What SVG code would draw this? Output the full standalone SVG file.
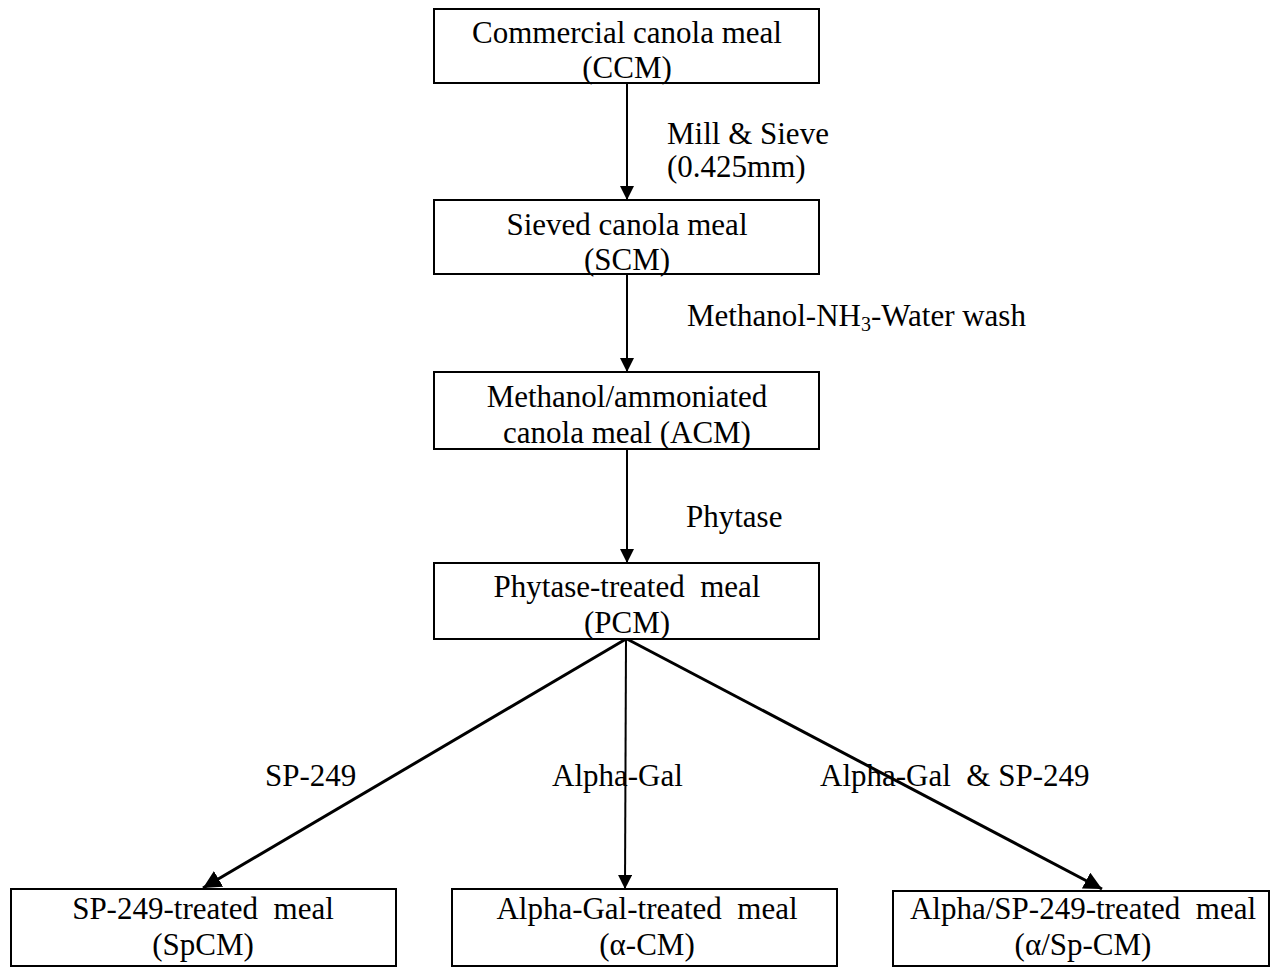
<svg xmlns="http://www.w3.org/2000/svg" width="1281" height="967" viewBox="0 0 1281 967">
<style>
.box{fill:#fff;stroke:#000;stroke-width:2}
text{font-family:"Liberation Serif","Times New Roman",serif;font-size:31px;fill:#000}
.c{text-anchor:middle}
.ln{stroke:#000;stroke-width:2;fill:none}
.dg{stroke:#000;stroke-width:3;fill:none}
</style>
<defs>
<marker id="ah" viewBox="0 0 10 10" refX="10" refY="5" markerWidth="14" markerHeight="14" markerUnits="userSpaceOnUse" orient="auto">
<path d="M0,0 L10,5 L0,10 z" fill="#000"/>
</marker>
<marker id="ah2" viewBox="0 0 10 10" refX="10" refY="5" markerWidth="6" markerHeight="6" orient="auto">
<path d="M0,0 L10,5 L0,10 z" fill="#000"/>
</marker>
</defs>
<rect width="1281" height="967" fill="#fff"/>
<g id="connectors">
<line class="ln" x1="627" y1="83" x2="627" y2="200" marker-end="url(#ah)"/>
<line class="ln" x1="627" y1="274" x2="627" y2="372" marker-end="url(#ah)"/>
<line class="ln" x1="627" y1="449" x2="627" y2="563" marker-end="url(#ah)"/>
<line class="ln" x1="626" y1="639" x2="625" y2="889" marker-end="url(#ah)"/>
<line class="dg" x1="626" y1="639" x2="203" y2="888" marker-end="url(#ah2)"/>
<line class="dg" x1="627" y1="639" x2="1102" y2="889" marker-end="url(#ah2)"/>
<text x="667" y="144">Mill &amp; Sieve</text>
<text x="667" y="177">(0.425mm)</text>
<text x="687" y="326">Methanol-NH<tspan font-size="20" dy="5">3</tspan><tspan dy="-5">-Water wash</tspan></text>
<text x="686" y="527">Phytase</text>
<text x="265" y="786">SP-249</text>
<text x="552" y="786">Alpha-Gal</text>
<text x="820" y="786" xml:space="preserve">Alpha-Gal  &amp; SP-249</text>
</g>
<g id="ccm">
<rect class="box" x="434" y="9" width="385" height="74"/>
<text class="c" x="627" y="43">Commercial canola meal</text>
<text class="c" x="627" y="78">(CCM)</text>
</g>
<g id="scm">
<rect class="box" x="434" y="200" width="385" height="74"/>
<text class="c" x="627" y="235">Sieved canola meal</text>
<text class="c" x="627" y="270">(SCM)</text>
</g>
<g id="acm">
<rect class="box" x="434" y="372" width="385" height="77"/>
<text class="c" x="627" y="407">Methanol/ammoniated</text>
<text class="c" x="627" y="443">canola meal (ACM)</text>
</g>
<g id="pcm">
<rect class="box" x="434" y="563" width="385" height="76"/>
<text class="c" x="627" y="597" xml:space="preserve">Phytase-treated  meal</text>
<text class="c" x="627" y="633">(PCM)</text>
</g>
<g id="spcm">
<rect class="box" x="11" y="889" width="385" height="77"/>
<text class="c" x="203" y="919" xml:space="preserve">SP-249-treated  meal</text>
<text class="c" x="203" y="955">(SpCM)</text>
</g>
<g id="acm2">
<rect class="box" x="452" y="889" width="385" height="77"/>
<text class="c" x="647" y="919" xml:space="preserve">Alpha-Gal-treated  meal</text>
<text class="c" x="647" y="955">(α-CM)</text>
</g>
<g id="aspcm">
<rect class="box" x="893" y="891" width="376" height="75"/>
<text class="c" x="1083" y="919" xml:space="preserve">Alpha/SP-249-treated  meal</text>
<text class="c" x="1083" y="955">(α/Sp-CM)</text>
</g>
</svg>
